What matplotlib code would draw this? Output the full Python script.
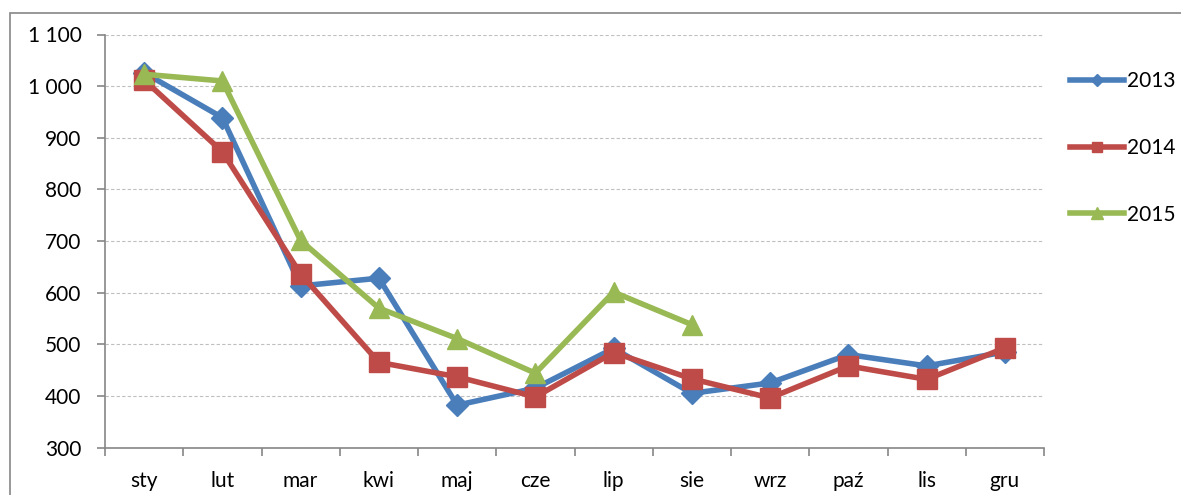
import matplotlib
matplotlib.use('Agg')
import matplotlib.pyplot as plt
from matplotlib.patches import Rectangle
from matplotlib.ticker import FixedLocator, FuncFormatter
import numpy as np

plt.rcParams['font.family'] = ['Lato', 'DejaVu Sans']

# Data
months = ['sty', 'lut', 'mar', 'kwi', 'maj', 'cze',
          'lip', 'sie', 'wrz', 'paź', 'lis', 'gru']
y2013 = [1026, 939, 613, 628, 382, 415, 492, 405, 425, 480, 458, 485]
y2014 = [1012, 873, 636, 465, 437, 398, 484, 433, 396, 458, 432, 493]
y2015 = [1023, 1010, 701, 570, 511, 444, 601, 538]
y_ticks = [300, 400, 500, 600, 700, 800, 900, 1000, 1100]

fig = plt.figure(figsize=(11.81, 4.95), dpi=100)
ax = fig.add_axes([105/1181, 1 - 447.5/495, (1044-105)/1181, (447.5-34.5)/495])

# outer chart border
fig.patches.append(Rectangle((10/1181, -0.1), 1.2, 1 - 13/495 + 0.1,
                             transform=fig.transFigure, fill=False,
                             edgecolor='#868686', linewidth=1.2))

x = np.arange(len(months))
ax.plot(x, y2013, color='#4A7EBB', lw=4, marker='D', ms=11,
        label='2013', zorder=3)
ax.plot(x, y2014, color='#BE4B48', lw=4, marker='s', ms=14,
        label='2014', zorder=4)
ax.plot(x[:len(y2015)], y2015, color='#98B954', lw=4, marker='^', ms=15,
        label='2015', zorder=5)

ax.set_xlim(-0.5, len(months) - 0.5)
ax.set_ylim(300, 1100)
ax.yaxis.set_major_locator(FixedLocator(y_ticks))
ax.yaxis.set_major_formatter(FuncFormatter(lambda v, p: f'{int(v):,}'.replace(',', ' ')))
ax.grid(axis='y', color='#BFBFBF', linestyle=(0, (3, 2)), linewidth=0.8)
ax.set_axisbelow(True)

ax.set_xticks(x)
ax.set_xticklabels(months)
ax.xaxis.set_minor_locator(FixedLocator(np.arange(-0.5, len(months), 1)))
ax.tick_params(axis='x', which='major', length=0, pad=17, labelsize=15)
ax.tick_params(axis='x', which='minor', length=6, color='#868686', width=1.2)
ax.tick_params(axis='y', length=6, color='#868686', width=1.2, pad=11, labelsize=15)

for s in ['top', 'right']:
    ax.spines[s].set_visible(False)
for s in ['left', 'bottom']:
    ax.spines[s].set_color('#868686')
    ax.spines[s].set_linewidth(1.2)

handles, labels = ax.get_legend_handles_labels()
fig.legend(handles, labels, loc='upper left',
           bbox_to_anchor=(1070/1181, 1 - 71/495),
           frameon=False, fontsize=15, labelspacing=2.25,
           handlelength=2.6, handletextpad=0.15, markerscale=0.55,
           borderaxespad=0, borderpad=0)

fig.savefig('out.png', dpi=100)
